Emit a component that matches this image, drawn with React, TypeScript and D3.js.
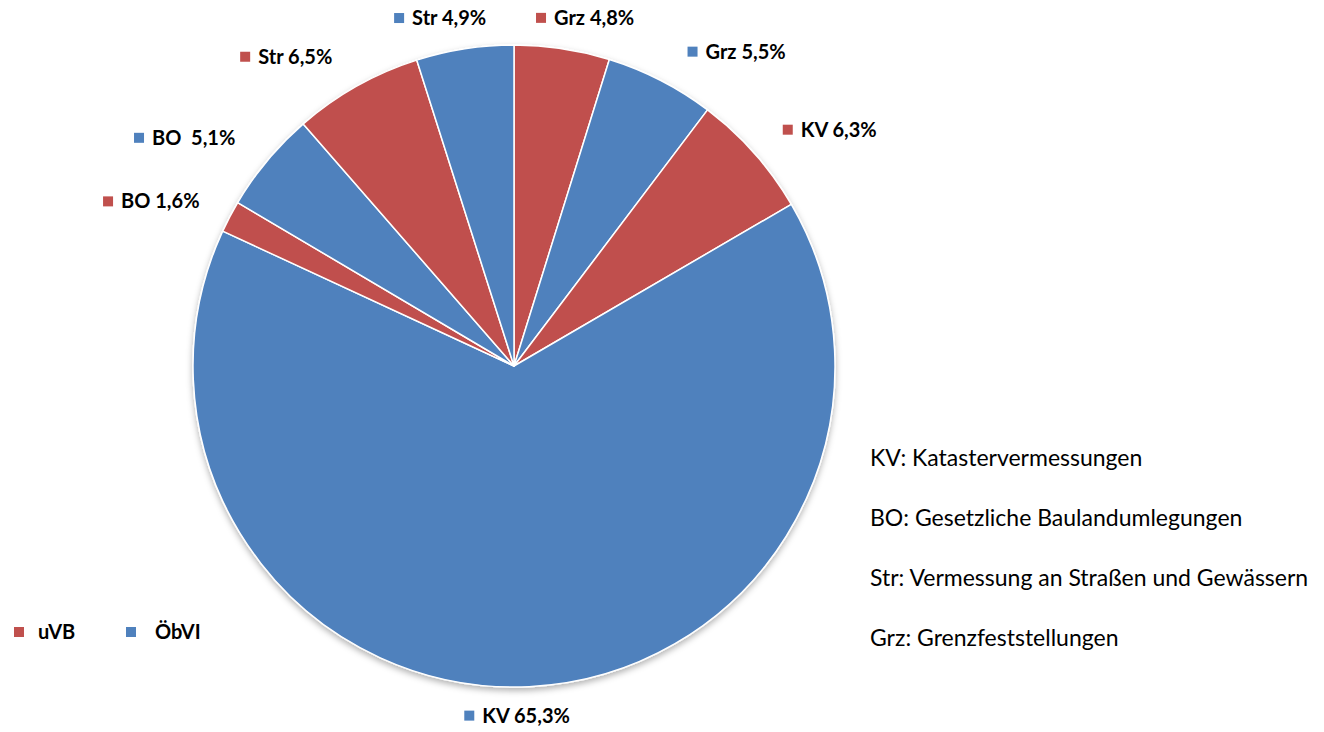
import React, { useEffect, useRef } from "react";
import * as d3 from "d3";

// slices clockwise from 12 o'clock
const categories = ["Grz", "Grz", "KV", "KV", "BO", "BO", "Str", "Str"];
const groups = ["uVB", "ÖbVI", "uVB", "ÖbVI", "uVB", "ÖbVI", "uVB", "ÖbVI"];
const shares = [4.8, 5.5, 6.3, 65.3, 1.6, 5.1, 6.5, 4.9];
const labelTexts = ["Grz 4,8%", "Grz 5,5%", "KV 6,3%", "KV 65,3%", "BO 1,6%", "BO  5,1%", "Str 6,5%", "Str 4,9%"];

const legendGroups = ["uVB", "ÖbVI"];
const notes = [
  "KV: Katastervermessungen",
  "BO: Gesetzliche Baulandumlegungen",
  "Str: Vermessung an Straßen und Gewässern",
  "Grz: Grenzfeststellungen",
];

// hand placed labels in the original, nudge from the computed outside-end spot
const labelNudge = [
  [14, -11], [49, -11], [33, -10], [-15, 9], [-27, -6], [-36, -10], [-43, -12], [-16, -11],
];

const colors = { uVB: "#C0504D", "ÖbVI": "#4F81BD" };

const App = () => {
  const svgRef = useRef(null);

  useEffect(() => {
    const width = 1324;
    const height = 732;
    const cx = 514;
    const cy = 366;
    const r = 321;
    const font = "Lato, 'Open Sans', sans-serif";

    const svg = d3.select(svgRef.current).attr("width", width).attr("height", height);
    svg.selectAll("*").remove();

    const defs = svg.append("defs");
    const f = defs.append("filter").attr("id", "shadow").attr("x", "-10%").attr("y", "-10%").attr("width", "120%").attr("height", "120%");
    f.append("feDropShadow").attr("dx", 0).attr("dy", 3).attr("stdDeviation", 3).attr("flood-color", "#000").attr("flood-opacity", 0.3);

    const data = shares.map((v, i) => ({ v, i }));
    const pie = d3.pie().value((d) => d.v).sort(null);
    const arcs = pie(data);
    const arc = d3.arc().innerRadius(0).outerRadius(r);

    const g = svg.append("g").attr("transform", `translate(${cx},${cy})`);
    g.append("g")
      .attr("filter", "url(#shadow)")
      .selectAll("path")
      .data(arcs)
      .enter()
      .append("path")
      .attr("d", arc)
      .attr("fill", (d) => colors[groups[d.data.i]])
      .attr("stroke", "#fff")
      .attr("stroke-width", 1.5)
      .attr("stroke-linejoin", "round");

    // data labels
    const fs = 20;
    arcs.forEach((a, i) => {
      const mid = (a.startAngle + a.endAngle) / 2;
      const dx = Math.sin(mid);
      const dy = -Math.cos(mid);
      const lg = g.append("g");
      lg.append("rect").attr("width", 10).attr("height", 10).attr("fill", colors[groups[i]]);
      const t = lg
        .append("text")
        .attr("x", 18)
        .attr("y", 12)
        .attr("font-family", font)
        .attr("font-weight", 700)
        .attr("font-size", fs)
        .attr("fill", "#000")
        .style("white-space", "pre")
        .text(labelTexts[i]);
      const w = 18 + t.node().getComputedTextLength();
      const h = 20;
      const px = (r + 10) * dx + (w / 2) * dx + labelNudge[i][0];
      const py = (r + 10) * dy + (h / 2) * dy + labelNudge[i][1];
      lg.attr("transform", `translate(${px - w / 2},${py - 5})`);
    });

    // legend
    const lx = [14, 126];
    legendGroups.forEach((k, i) => {
      svg.append("rect").attr("x", lx[i]).attr("y", 627).attr("width", 10).attr("height", 10).attr("fill", colors[k]);
      svg
        .append("text")
        .attr("x", lx[i] + (i === 0 ? 24 : 29))
        .attr("y", 639)
        .attr("font-family", font)
        .attr("font-weight", 700)
        .attr("font-size", fs)
        .text(k);
    });

    // abbreviations
    notes.forEach((n, i) => {
      svg
        .append("text")
        .attr("x", 870)
        .attr("y", 466 + i * 60)
        .attr("font-family", font)
        .attr("font-size", 23)
        .attr("fill", "#000")
        .text(n);
    });
  }, []);

  return (
    <svg ref={svgRef} style={{ position: "absolute", left: 0, top: 0, background: "#fff" }}></svg>
  );
};

export default App;
